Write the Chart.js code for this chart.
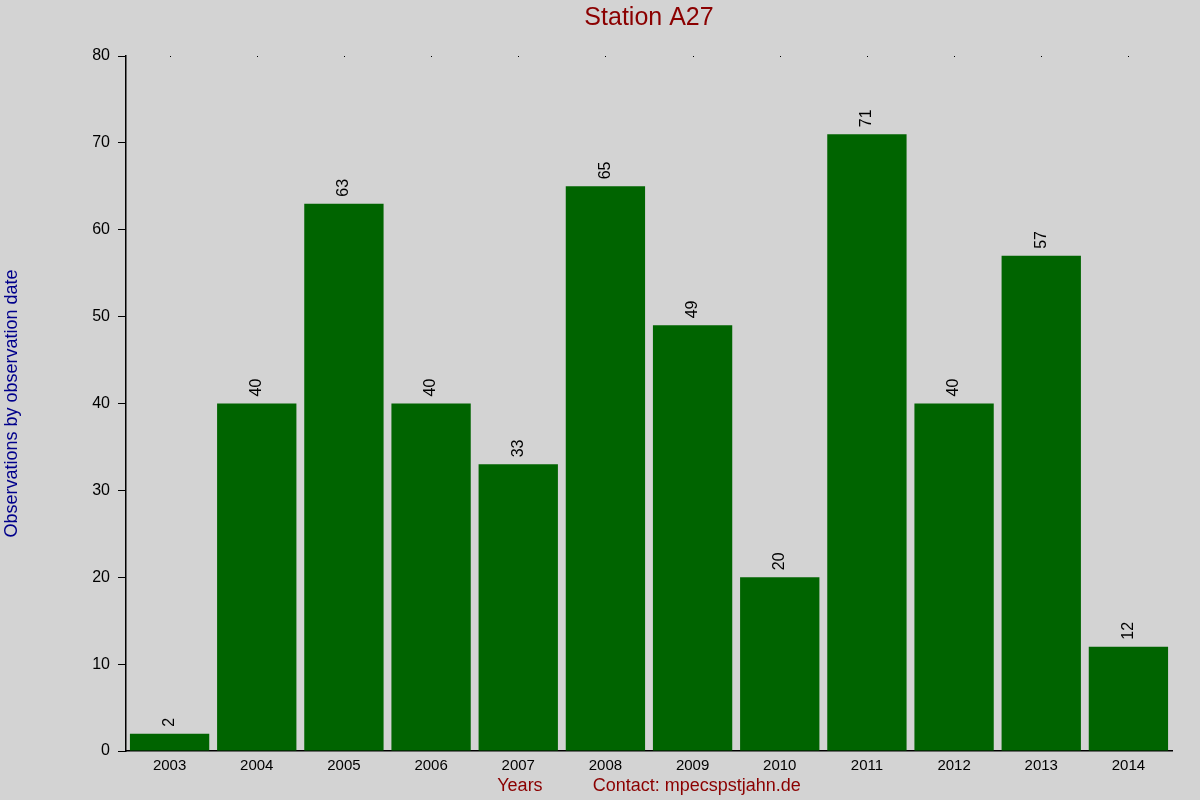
<!DOCTYPE html>
<html>
<head>
<meta charset="utf-8">
<script src="https://cdn.jsdelivr.net/npm/chart.js@4/dist/chart.umd.min.js"></script>
<style>
html,body{margin:0;padding:0;background:#d3d3d3;}
#wrap{width:1200px;height:800px;}
</style>
</head>
<body>
<div id="wrap"><canvas id="c" width="1200" height="800"></canvas></div>
<script>
const years = ["2003","2004","2005","2006","2007","2008","2009","2010","2011","2012","2013","2014"];
const observations = [2,40,63,40,33,65,49,20,71,40,57,12];
const yTicks = [0,10,20,30,40,50,60,70,80];
const chartTitle = "Station A27";
const yTitle = "Observations by observation date";
const xTitle = "Years          Contact: mpecspstjahn.de";

const FONT = "'Liberation Sans', Arial, sans-serif";

const bgPlugin = {
  id: 'bg',
  beforeDraw(chart) {
    const ctx = chart.ctx;
    ctx.save();
    ctx.fillStyle = '#d3d3d3';
    ctx.fillRect(0, 0, chart.width, chart.height);
    ctx.restore();
  }
};

const labelPlugin = {
  id: 'valueLabels',
  afterDatasetsDraw(chart) {
    const ctx = chart.ctx;
    const meta = chart.getDatasetMeta(0);
    const x = chart.scales.x;
    const area = chart.chartArea;
    ctx.save();
    // title centred over the plot area
    ctx.fillStyle = '#8b0000';
    ctx.font = '25px ' + FONT;
    ctx.textAlign = 'center';
    ctx.textBaseline = 'middle';
    ctx.fillText(chartTitle, (area.left + area.right) / 2, 18);

    ctx.fillStyle = '#000';
    ctx.font = '16px ' + FONT;
    ctx.textAlign = 'left';
    ctx.textBaseline = 'middle';
    meta.data.forEach((bar, i) => {
      ctx.save();
      ctx.translate(bar.x, bar.y - 7);
      ctx.rotate(-Math.PI / 2);
      ctx.fillText(String(observations[i]), 0, 0);
      ctx.restore();
    });
    // small dots at top of plot at category centers
    years.forEach((_, i) => {
      const px = Math.round(x.getPixelForValue(i));
      ctx.fillRect(px, area.top, 1, 1);
    });
    ctx.restore();
  }
};

new Chart(document.getElementById('c'), {
  type: 'bar',
  data: {
    labels: years,
    datasets: [{
      data: observations,
      backgroundColor: '#006400',
      borderWidth: 0,
      barPercentage: 0.91,
      categoryPercentage: 1.0
    }]
  },
  options: {
    responsive: false,
    animation: false,
    devicePixelRatio: 1,
    layout: { padding: { left: 0, right: 28, top: 56, bottom: 0 } },
    plugins: {
      legend: { display: false },
      tooltip: { enabled: false },
      title: { display: false }
    },
    scales: {
      x: {
        afterFit(scale) { scale.height = 49; },
        grid: { display: false, drawTicks: false },
        border: { display: true, color: '#000', width: 1.5 },
        ticks: { color: '#000', font: { family: FONT, size: 15 }, padding: 6, maxRotation: 0 },
        title: {
          display: true,
          text: xTitle,
          color: '#8b0000',
          font: { family: FONT, size: 18 },
          padding: { top: 3, bottom: 3 }
        }
      },
      y: {
        min: 0,
        max: 80,
        afterFit(scale) { scale.width = 126; },
        afterBuildTicks(scale) { scale.ticks = yTicks.map(v => ({ value: v })); },
        grid: { drawOnChartArea: false, drawTicks: true, tickLength: 8, color: '#000' },
        border: { display: true, color: '#000', width: 1.5 },
        ticks: { color: '#000', font: { family: FONT, size: 16 }, padding: 8 },
        title: {
          display: true,
          text: yTitle,
          color: '#00008b',
          font: { family: FONT, size: 18 },
          padding: { top: 1, bottom: 0 }
        }
      }
    }
  },
  plugins: [bgPlugin, labelPlugin]
});
</script>
</body>
</html>
